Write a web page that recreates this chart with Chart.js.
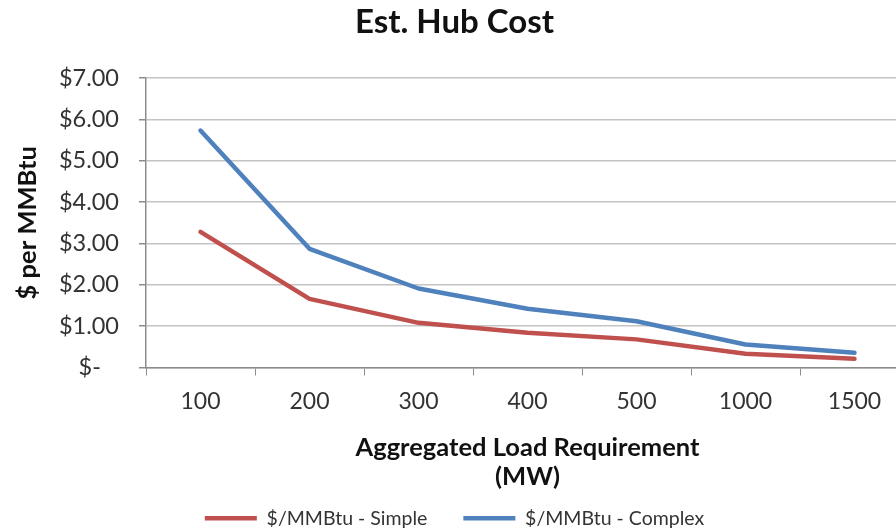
<!DOCTYPE html>
<html>
<head>
<meta charset="utf-8">
<script src="https://cdn.jsdelivr.net/npm/chart.js@4/dist/chart.umd.min.js"></script>
<style>
  html, body { margin: 0; padding: 0; background: #fff; overflow: hidden; }
  .wrap { width: 896px; height: 529px; overflow: hidden; position: relative; }
  #hub-chart { position: absolute; left: 0; top: 0; }
</style>
</head>
<body>
<div class="wrap"><canvas id="hub-chart" width="910" height="538"></canvas></div>
<script>
// Est. Hub Cost — $ per MMBtu vs aggregated load
// canvas is a bit larger than the frame, the original picture is cropped at right/bottom
const loadMW = ['100', '200', '300', '400', '500', '1000', '1500'];
const simpleCost = [3.28, 1.66, 1.08, 0.84, 0.68, 0.33, 0.21];
const complexCost = [5.73, 2.87, 1.91, 1.42, 1.12, 0.555, 0.355];
const yTickLabels = ['$-   ', '$1.00', '$2.00', '$3.00', '$4.00', '$5.00', '$6.00', '$7.00'];

const RED = '#C0504D';
const BLUE = '#4F81BD';
const GRID = '#c4c4c4';
const AXIS = '#8c8c8c';
const FONT = 'Lato';

new Chart(document.getElementById('hub-chart'), {
  type: 'line',
  data: {
    labels: loadMW,
    datasets: [
      { label: '$/MMBtu - Simple', data: simpleCost, borderColor: RED, backgroundColor: RED, borderWidth: 4.5 },
      { label: '$/MMBtu - Complex', data: complexCost, borderColor: BLUE, backgroundColor: BLUE, borderWidth: 4.5 },
    ],
  },
  options: {
    responsive: false, animation: false,
    layout: { padding: { left: 0, right: 1, top: 0, bottom: 0 } },
    elements: {
      line: { tension: 0, borderJoinStyle: 'round', borderCapStyle: 'round' },
      point: { radius: 0, hoverRadius: 0 },
    },
    plugins: {
      title: {
        display: true, text: 'Est. Hub Cost', color: '#111',
        font: { family: FONT, size: 33, weight: 'bold' },
        padding: { top: 3, bottom: 35.4 },
      },
      legend: {
        position: 'bottom',
        labels: {
          usePointStyle: true, pointStyle: 'line', pointStyleWidth: 52,
          color: '#333', padding: 36,
          font: { family: FONT, size: 19.5 },
        },
      },
      tooltip: { enabled: false },
    },
    scales: {
      x: {
        offset: true,
        afterFit: s => { s.height = 105; },
        grid: { offset: true, drawOnChartArea: false, drawTicks: true, tickLength: 8, color: AXIS },
        border: { color: AXIS, width: 1.5 },
        ticks: { color: '#333', padding: 12, font: { family: FONT, size: 23 } },
        title: {
          display: true, text: ['Aggregated Load Requirement', '(MW)'], color: '#111',
          font: { family: FONT, size: 25.5, weight: 'bold', lineHeight: 1.15 },
          padding: { top: 0, bottom: -19 },
        },
      },
      y: {
        min: 0, max: 7,
        afterFit: s => { s.width = 146; },
        grid: { color: GRID, lineWidth: 1.5, tickLength: 7, tickColor: AXIS },
        border: { color: AXIS, width: 1.5 },
        ticks: {
          stepSize: 1, color: '#333', padding: 20,
          font: { family: FONT, size: 23.5 },
          callback: (v, i) => yTickLabels[i],
        },
        title: {
          display: true, text: '$ per MMBtu', color: '#111',
          font: { family: FONT, size: 25.5, weight: 'bold' },
          padding: { top: 12, bottom: 0 },
        },
      },
    },
  },
});
</script>
</body>
</html>
